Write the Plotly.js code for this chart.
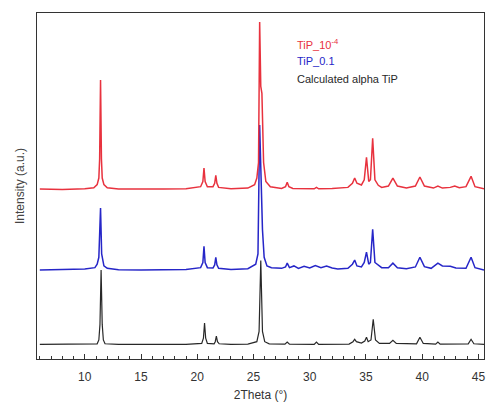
<!DOCTYPE html>
<html>
<head>
<meta charset="utf-8">
<script src="https://cdn.plot.ly/plotly-3.0.1.min.js"></script>
<style>html,body{margin:0;padding:0;background:#fff;}#chart{width:486px;height:405px;}</style>
</head>
<body>
<div id="chart"></div>
<script>
// Series names
const seriesNames = ["TiP_10<sup>-4</sup>", "TiP_0.1", "Calculated alpha TiP"];

// [2Theta, relative intensity]
const redPoints = [[6,0.3],[8,0.2],[10,0.4],[10.8,0.7],[11.1,1.6],[11.25,3.5],[11.32,9],[11.4,31.8],[11.48,9],[11.55,3.5],[11.7,1.6],[12.0,0.7],[13,0.3],[15,0.2],[17,0.3],[19,0.4],[20.3,1.0],[20.5,2.5],[20.6,6.4],[20.7,2.5],[20.9,1.0],[21.4,1.0],[21.55,2],[21.65,4.3],[21.75,2],[21.9,0.8],[23,0.4],[24.5,0.6],[25.1,1.6],[25.3,3.5],[25.45,8],[25.55,48.6],[25.65,30],[25.75,28],[25.9,8],[26.1,2.5],[26.5,1.0],[27.5,0.5],[27.85,1.0],[28.0,2.3],[28.15,1.0],[28.5,0.5],[29.5,0.4],[30.4,0.4],[30.6,0.8],[30.8,0.4],[32,0.5],[33.4,0.8],[33.8,2],[34.0,3.5],[34.2,2],[34.6,1.5],[34.85,3],[35.05,9.5],[35.25,2.5],[35.4,3],[35.6,15.0],[35.8,3],[36.1,1.4],[36.4,0.8],[37.0,1.2],[37.4,3.5],[37.8,1.2],[38.6,0.6],[39.4,1.2],[39.8,3.8],[40.2,1.2],[41.0,0.6],[41.4,1.2],[41.8,0.6],[42.5,0.8],[42.9,1.2],[43.3,0.7],[43.9,1.0],[44.35,4.0],[44.7,1.0],[45.5,0.4]];

const bluePoints = [[6,0.3],[8,0.4],[10,0.6],[10.9,1.0],[11.1,2.0],[11.25,4],[11.4,18.2],[11.5,5],[11.7,1.5],[12,0.8],[13,0.4],[15,0.3],[17,0.4],[19,0.5],[20.3,1.0],[20.5,2.5],[20.6,7.2],[20.7,2.5],[20.9,1.0],[21.4,0.9],[21.55,1.8],[21.65,4.0],[21.75,1.8],[21.9,0.8],[23,0.5],[24.5,0.7],[25.2,2],[25.4,5],[25.55,42.2],[25.65,30],[25.8,12],[25.95,4],[26.2,1.5],[26.6,1.0],[27.5,0.8],[27.85,1.2],[28.0,2.3],[28.2,1.0],[28.6,1.5],[29.0,0.8],[29.5,1.4],[30.0,0.9],[30.5,1.6],[31.0,1.0],[31.5,1.5],[32.0,0.9],[32.5,0.6],[33.4,0.8],[33.8,2],[34.0,3.2],[34.2,1.5],[34.6,1.2],[34.85,2.5],[35.05,5.5],[35.25,2.0],[35.4,2.5],[35.6,12.1],[35.8,2.5],[36.1,1.7],[36.4,1.0],[37.0,1.0],[37.4,2.3],[37.8,1.0],[38.6,0.7],[39.4,1.2],[39.8,4.0],[40.2,1.3],[40.8,0.8],[41.4,2.3],[41.8,1.5],[42.5,1.4],[43.0,0.9],[43.9,0.8],[44.35,4.0],[44.7,1.0],[45.5,0.3]];

const blackPoints = [[6,0.2],[8,0.2],[10,0.2],[11.1,0.4],[11.25,1.5],[11.35,6],[11.45,21.7],[11.55,6],[11.65,1.5],[11.8,0.4],[13,0.2],[15,0.2],[17,0.2],[19,0.2],[20.4,0.5],[20.55,2],[20.65,6.4],[20.75,2],[20.9,0.5],[21.5,0.4],[21.6,1],[21.7,2.6],[21.8,1],[21.95,0.4],[23,0.2],[24.5,0.3],[25.3,1],[25.5,4],[25.65,24.5],[25.8,4],[26.0,1],[26.4,0.4],[27.8,0.3],[28.0,0.9],[28.2,0.3],[30.4,0.2],[30.6,0.9],[30.8,0.2],[33.5,0.3],[33.85,1],[34.0,1.7],[34.15,1],[34.6,0.6],[34.9,1.2],[35.05,2.3],[35.2,1],[35.45,1.5],[35.65,7.5],[35.85,1.5],[36.2,0.5],[37.1,0.5],[37.4,1.4],[37.7,0.5],[39.5,0.4],[39.8,2.3],[40.1,0.5],[41.2,0.3],[41.4,0.9],[41.6,0.3],[44.1,0.4],[44.35,1.7],[44.6,0.4],[45.5,0.2]];

// vertical stacking offsets of the patterns
const offsets = [48.8, 25.4, 4.0];
const colors = ["rgb(232,50,62)", "rgb(38,38,200)", "rgb(40,40,40)"];

const xTickVals = [10, 15, 20, 25, 30, 35, 40, 45];

const allPoints = [redPoints, bluePoints, blackPoints];
const traces = [];
// draw black first, then blue, then red on top
for (let i = 2; i >= 0; i--) {
  traces.push({
    type: 'scatter', mode: 'lines', name: seriesNames[i],
    x: allPoints[i].map(p => p[0]),
    y: allPoints[i].map(p => p[1] + offsets[i]),
    line: {color: colors[i], width: i === 2 ? 1.2 : 1.5},
    showlegend: false
  });
}

const font = {family: 'Liberation Sans, Arial, sans-serif', size: 12, color: '#333'};

const layout = {
  width: 486, height: 405,
  margin: {l: 37, r: 2, t: 13, b: 46},
  paper_bgcolor: '#fff', plot_bgcolor: '#fff',
  font: font,
  showlegend: false,
  xaxis: {
    range: [5.75, 45.5], tickvals: xTickVals, ticktext: xTickVals.map(String),
    ticks: 'inside', ticklen: 5, tickwidth: 1, tickcolor: '#333',
    ticklabelstandoff: 7,
    minor: {dtick: 1, ticks: 'inside', ticklen: 3, tickcolor: '#333', showgrid: false},
    showline: true, linecolor: '#333', linewidth: 1, mirror: true,
    showgrid: false, zeroline: false,
    tickfont: {family: font.family, size: 12, color: '#333'},
    title: {text: '2Theta (°)', font: {family: font.family, size: 12, color: '#333'}, standoff: 7}
  },
  yaxis: {
    range: [0, 100], showticklabels: false, ticks: '',
    showline: true, linecolor: '#333', linewidth: 1, mirror: true,
    showgrid: false, zeroline: false,
    title: {text: 'Intensity (a.u.)', font: {family: font.family, size: 12, color: '#444'}, standoff: 8}
  },
  annotations: seriesNames.map((t, i) => ({
    xref: 'paper', yref: 'paper', x: 0.578, y: [0.91, 0.86, 0.81][i],
    xanchor: 'left', yanchor: 'middle', showarrow: false,
    text: t, font: {family: font.family, size: 11, color: colors[i]}
  }))
};

Plotly.newPlot('chart', traces, layout, {displayModeBar: false, staticPlot: true});
</script>
</body>
</html>
